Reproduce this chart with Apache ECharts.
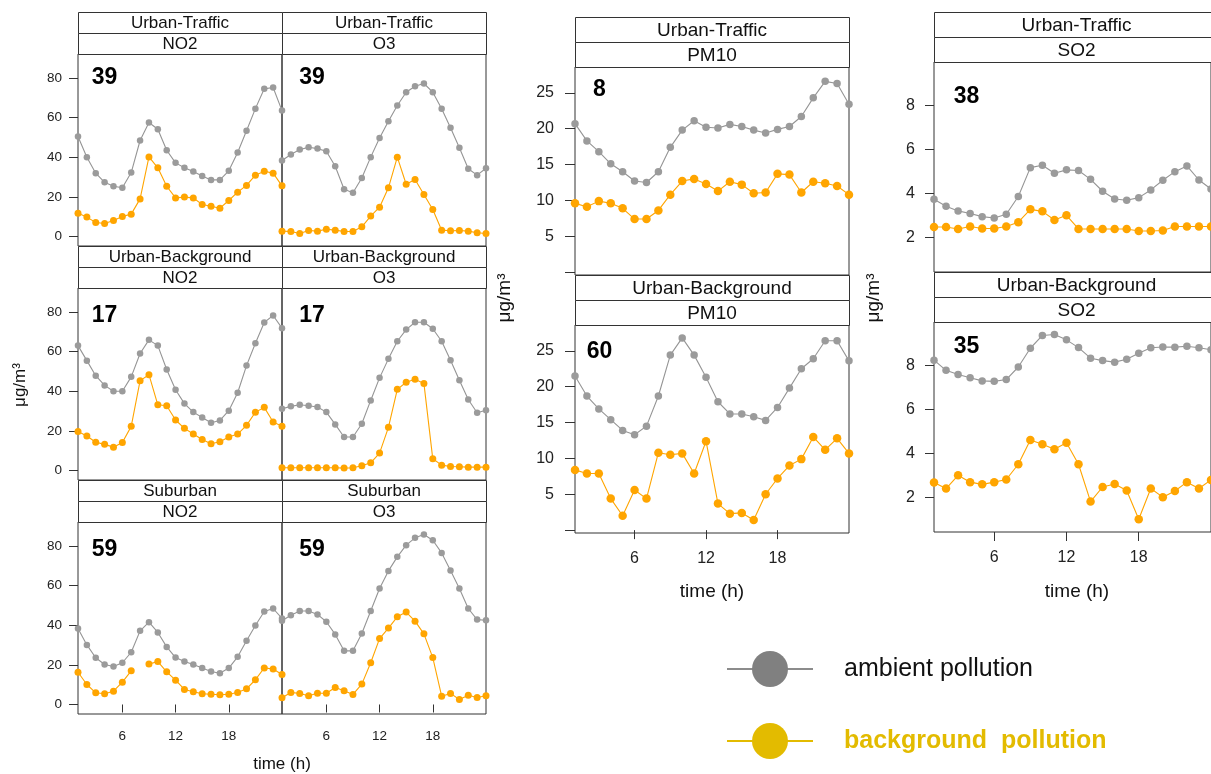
<!DOCTYPE html>
<html>
<head>
<meta charset="utf-8">
<script src="https://cdn.jsdelivr.net/npm/echarts@6/dist/echarts.min.js"></script>
<style>
html, body { margin: 0; padding: 0; background: #fff; }
#chart { width: 1211px; height: 774px; }
</style>
</head>
<body>
<div id="chart"></div>
<script>
// hours of the day, 1..24
const hours = [1, 2, 3, 4, 5, 6, 7, 8, 9, 10, 11, 12, 13, 14, 15, 16, 17, 18, 19, 20, 21, 22, 23, 24];
const hourTicks = [6, 12, 18];
const no2Ticks = [0, 20, 40, 60, 80];
const pm10Ticks = [0, 5, 10, 15, 20, 25];
const pm10Labels = [5, 10, 15, 20, 25];
const so2Ticks = [2, 4, 6, 8];

// Urban-Traffic
const utNo2Ambient = [50.5, 40, 32, 27.4, 25.4, 24.6, 32.3, 48.5, 57.6, 54.2, 43.6, 37.2, 34.7, 32.8, 30.6, 28.6, 28.6, 33.2, 42.4, 53.4, 64.6, 74.6, 75.3, 63.6];
const utNo2Background = [11.8, 9.8, 7.1, 6.6, 8.1, 10.1, 11.3, 19, 40.2, 34.7, 25.4, 19.5, 19.9, 19.5, 16.2, 15.3, 14.3, 18.2, 22.4, 25.8, 31, 33, 32, 25.6];
const utO3Ambient = [38.4, 41.4, 43.9, 45.1, 44.4, 43.1, 35.5, 23.9, 22.1, 29.6, 40.1, 49.8, 58.2, 66.2, 72.9, 75.9, 77.3, 72.9, 64.5, 54.9, 44.8, 34.2, 31, 34.5];
const utO3Background = [2.7, 2.5, 1.5, 3, 2.7, 3.7, 3.2, 2.5, 2.5, 4.9, 10.3, 14.8, 24.6, 40.1, 26.4, 28.8, 21.2, 13.6, 3.2, 2.9, 3, 2.7, 1.9, 1.5];
const utPm10Ambient = [20.7, 18.3, 16.8, 15.1, 14, 12.7, 12.5, 14, 17.4, 19.8, 21.1, 20.2, 20.1, 20.6, 20.3, 19.8, 19.4, 19.9, 20.3, 21.7, 24.3, 26.6, 26.3, 23.4];
const utPm10Background = [9.6, 9.1, 9.9, 9.6, 8.9, 7.4, 7.4, 8.6, 10.8, 12.7, 13, 12.3, 11.3, 12.6, 12.2, 11, 11.1, 13.7, 13.6, 11.1, 12.6, 12.4, 12, 10.8];
const utSo2Ambient = [3.74, 3.42, 3.21, 3.09, 2.95, 2.89, 3.06, 3.86, 5.17, 5.28, 4.92, 5.07, 5.04, 4.64, 4.1, 3.75, 3.69, 3.81, 4.16, 4.6, 4.99, 5.25, 4.61, 4.2];
const utSo2Background = [2.48, 2.48, 2.39, 2.5, 2.41, 2.41, 2.5, 2.7, 3.28, 3.19, 2.8, 3.01, 2.39, 2.39, 2.39, 2.39, 2.39, 2.3, 2.3, 2.32, 2.5, 2.5, 2.5, 2.5];

// Urban-Background
const ubNo2Ambient = [63.1, 55.5, 47.9, 43, 40, 40, 47.3, 59.1, 66, 63.1, 51, 40.8, 33.8, 29.5, 26.8, 24.1, 25.3, 30.2, 39.3, 53, 64.3, 74.8, 78.3, 71.9];
const ubNo2Background = [19.7, 17.4, 14.3, 13.2, 11.8, 14.2, 22.3, 45.4, 48.4, 33.2, 32.7, 25.5, 21.3, 18.4, 15.7, 13.5, 14.5, 16.9, 18.4, 22.8, 29.4, 31.9, 24.5, 22.4];
const ubO3Ambient = [31.2, 32.4, 33.2, 32.7, 32.1, 29.5, 23.3, 16.9, 16.9, 23.6, 35.4, 46.8, 56.4, 65.3, 71.2, 74.9, 74.9, 71.6, 65.3, 55.7, 45.6, 35.9, 29.2, 30.4];
const ubO3Background = [1.4, 1.4, 1.4, 1.4, 1.4, 1.4, 1.4, 1.2, 1.4, 2.4, 3.9, 8.8, 21.8, 41, 44.6, 46.1, 44, 5.9, 2.7, 2, 1.9, 1.7, 1.7, 1.7];
const ubPm10Ambient = [21.5, 18.7, 16.9, 15.4, 13.9, 13.3, 14.5, 18.7, 24.4, 26.8, 24.4, 21.3, 17.9, 16.2, 16.2, 15.8, 15.3, 17.1, 19.8, 22.5, 23.9, 26.4, 26.4, 23.6];
const ubPm10Background = [8.4, 7.9, 7.9, 4.4, 2, 5.6, 4.4, 10.8, 10.5, 10.7, 7.9, 12.4, 3.7, 2.3, 2.4, 1.4, 5, 7.2, 9, 9.9, 13, 11.2, 12.8, 10.7];
const ubSo2Ambient = [8.23, 7.77, 7.58, 7.43, 7.29, 7.27, 7.35, 7.92, 8.77, 9.35, 9.39, 9.15, 8.8, 8.32, 8.21, 8.14, 8.27, 8.54, 8.79, 8.83, 8.82, 8.86, 8.79, 8.7];
const ubSo2Background = [2.68, 2.41, 3.01, 2.7, 2.6, 2.7, 2.82, 3.51, 4.61, 4.42, 4.19, 4.49, 3.51, 1.82, 2.48, 2.62, 2.32, 1.02, 2.41, 2.02, 2.3, 2.7, 2.41, 2.8];

// Suburban
const sNo2Ambient = [38.4, 30.1, 23.6, 20.2, 19.2, 21.1, 26.4, 37.2, 41.6, 36.4, 29.1, 23.7, 21.7, 20.2, 18.4, 16.7, 15.8, 18.4, 24.1, 32.2, 39.9, 47, 48.5, 43.5];
const sNo2Background = [16.3, 10.1, 5.9, 5.4, 6.7, 11.3, 17, null, 20.4, 21.7, 16.5, 12.3, 7.6, 6.4, 5.4, 5.2, 4.9, 5.2, 6.1, 7.9, 12.5, 18.5, 17.9, 15.2];
const sO3Ambient = [42.3, 45.1, 47.2, 47.2, 45.5, 41.8, 35.4, 27.1, 27.1, 35.9, 47.2, 58.6, 67.5, 74.6, 80.5, 84.2, 85.9, 83, 76.6, 67.7, 58.6, 48.5, 42.9, 42.6];
const sO3Background = [3.4, 6.1, 5.6, 4.4, 5.7, 5.7, 8.6, 6.9, 5.1, 10.3, 21.1, 33.3, 38.6, 44.3, 46.7, 42.1, 35.7, 23.7, 4.2, 5.6, 2.5, 4.7, 3.5, 4.4];

const AMBIENT = 'ambient pollution';
const BACKGROUND = 'background  pollution';
const FONT = '"Liberation Sans", Arial, Helvetica, sans-serif';

// column styles
const columns = {
    left: { width: 204, stripH: 21, plotH: 192, stripFont: 17, tickFont: 13.5, yMin: -4.8, yMax: 92.2, yTicks: no2Ticks, yLabels: no2Ticks, yTickLen: 9, yMargin: 16, xTickLen: 8, xMargin: 15, symA: 6.5, symB: 7 },
    pm10: { width: 274, stripH: 25, plotH: 208, stripFont: 19, tickFont: 16, yMin: -0.4, yMax: 28.6, yTicks: pm10Ticks, yLabels: pm10Labels, yTickLen: 10, yMargin: 21, xTickLen: 9, xMargin: 18, symA: 7.5, symB: 8.5 },
    so2: { width: 285, stripH: 25, plotH: 210, stripFont: 19, tickFont: 16, yMin: 0.44, yMax: 9.96, yTicks: so2Ticks, yLabels: so2Ticks, yTickLen: 9, yMargin: 19, xTickLen: 9, xMargin: 18, symA: 7.5, symB: 8.5 },
};

const panels = [
    { col: 'left', x: 78, top: 12, site: 'Urban-Traffic', pol: 'NO2', tag: '39', tagDx: 26.5, tagDy: 24, yAxis: true, xAxis: false, a: utNo2Ambient, b: utNo2Background },
    { col: 'left', x: 282, top: 12, site: 'Urban-Traffic', pol: 'O3', tag: '39', tagDx: 30, tagDy: 24, yAxis: false, xAxis: false, a: utO3Ambient, b: utO3Background },
    { col: 'left', x: 78, top: 246, site: 'Urban-Background', pol: 'NO2', tag: '17', tagDx: 26.5, tagDy: 28, yAxis: true, xAxis: false, a: ubNo2Ambient, b: ubNo2Background },
    { col: 'left', x: 282, top: 246, site: 'Urban-Background', pol: 'O3', tag: '17', tagDx: 30, tagDy: 28, yAxis: false, xAxis: false, a: ubO3Ambient, b: ubO3Background },
    { col: 'left', x: 78, top: 480, site: 'Suburban', pol: 'NO2', tag: '59', tagDx: 26.5, tagDy: 28, yAxis: true, xAxis: true, a: sNo2Ambient, b: sNo2Background },
    { col: 'left', x: 282, top: 480, site: 'Suburban', pol: 'O3', tag: '59', tagDx: 30, tagDy: 28, yAxis: false, xAxis: true, a: sO3Ambient, b: sO3Background },
    { col: 'pm10', x: 575, top: 17, site: 'Urban-Traffic', pol: 'PM10', tag: '8', tagDx: 24.5, tagDy: 23, yAxis: true, xAxis: false, a: utPm10Ambient, b: utPm10Background },
    { col: 'pm10', x: 575, top: 275, site: 'Urban-Background', pol: 'PM10', tag: '60', tagDx: 24.5, tagDy: 27, yAxis: true, xAxis: true, a: ubPm10Ambient, b: ubPm10Background },
    { col: 'so2', x: 934, top: 12, site: 'Urban-Traffic', pol: 'SO2', tag: '38', tagDx: 32.5, tagDy: 35, yAxis: true, xAxis: false, a: utSo2Ambient, b: utSo2Background },
    { col: 'so2', x: 934, top: 272, site: 'Urban-Background', pol: 'SO2', tag: '35', tagDx: 32.5, tagDy: 25, yAxis: true, xAxis: true, a: ubSo2Ambient, b: ubSo2Background },
];

const toPoints = (vals) => hours.map((h, k) => [h, vals[k] == null ? '-' : vals[k]]);

const grids = [], xAxes = [], yAxes = [], series = [], graphics = [];

panels.forEach((p, i) => {
    const c = columns[p.col];
    const plotTop = p.top + 2 * c.stripH;
    grids.push({
        left: p.x, top: plotTop, width: c.width, height: c.plotH,
        show: true, borderColor: '#333', borderWidth: 1, backgroundColor: 'transparent',
    });
    xAxes.push({
        gridIndex: i, type: 'value', min: 1, max: 24,
        axisLine: { show: false }, splitLine: { show: false },
        axisTick: { show: p.xAxis, customValues: hourTicks, length: c.xTickLen, lineStyle: { color: '#333' } },
        axisLabel: { show: p.xAxis, customValues: hourTicks, fontSize: c.tickFont, color: '#222', margin: c.xMargin, fontFamily: FONT },
    });
    yAxes.push({
        gridIndex: i, type: 'value', min: c.yMin, max: c.yMax,
        axisLine: { show: false }, splitLine: { show: false },
        axisTick: { show: p.yAxis, customValues: c.yTicks, length: c.yTickLen, lineStyle: { color: '#333' } },
        axisLabel: { show: p.yAxis, customValues: c.yLabels, fontSize: c.tickFont, color: '#222', margin: c.yMargin, fontFamily: FONT },
    });
    series.push({
        type: 'line', name: AMBIENT, xAxisIndex: i, yAxisIndex: i,
        data: toPoints(p.a), symbol: 'circle', symbolSize: c.symA, silent: true,
        itemStyle: { color: '#9b9b9b' }, lineStyle: { color: '#959595', width: 1.1 },
    });
    series.push({
        type: 'line', name: BACKGROUND, xAxisIndex: i, yAxisIndex: i,
        data: toPoints(p.b), symbol: 'circle', symbolSize: c.symB, silent: true,
        itemStyle: { color: '#ffa500' }, lineStyle: { color: '#ffa500', width: 1.1 },
    });

    // strip boxes
    [p.site, p.pol].forEach((label, k) => {
        const y = p.top + k * c.stripH;
        graphics.push({
            type: 'rect', silent: true, z: 10,
            shape: { x: p.x + 0.5, y: Math.round(y) + 0.5, width: c.width, height: c.stripH },
            style: { fill: '#fff', stroke: '#333', lineWidth: 1 },
        });
        graphics.push({
            type: 'text', silent: true, z: 11,
            x: p.x + c.width / 2, y: y + c.stripH / 2 + 1,
            style: { text: label, fontSize: c.stripFont, fontFamily: FONT, fill: '#111', align: 'center', verticalAlign: 'middle' },
        });
    });
    // station count tag
    graphics.push({
        type: 'text', silent: true, z: 11,
        x: p.x + p.tagDx, y: plotTop + p.tagDy,
        style: { text: p.tag, fontSize: 23, fontWeight: 'bold', fontFamily: FONT, fill: '#000', align: 'center', verticalAlign: 'middle' },
    });
});

const axisTitles = [
    { text: 'time (h)', x: 282, y: 764, size: 17, rot: 0 },
    { text: 'time (h)', x: 712, y: 592, size: 19, rot: 0 },
    { text: 'time (h)', x: 1077, y: 592, size: 19, rot: 0 },
    { text: 'μg/m³', x: 20, y: 385, size: 17, rot: Math.PI / 2 },
    { text: 'μg/m³', x: 505, y: 298, size: 19, rot: Math.PI / 2 },
    { text: 'μg/m³', x: 874, y: 298, size: 19, rot: Math.PI / 2 },
];
axisTitles.forEach((t) => {
    graphics.push({
        type: 'text', silent: true, x: t.x, y: t.y, rotation: t.rot,
        style: { text: t.text, fontSize: t.size, fontFamily: FONT, fill: '#111', align: 'center', verticalAlign: 'middle' },
    });
});

const chart = echarts.init(document.getElementById('chart'));
chart.setOption({
    animation: false,
    backgroundColor: '#fff',
    textStyle: { fontFamily: FONT },
    grid: grids,
    xAxis: xAxes,
    yAxis: yAxes,
    series: series,
    graphic: graphics,
    legend: {
        orient: 'vertical', left: 721, top: 646,
        itemWidth: 86, itemHeight: 45, itemGap: 36,
        selectedMode: false,
        textStyle: { fontSize: 25, fontFamily: FONT, padding: [0, 0, 0, 26] },
        data: [
            { name: AMBIENT, itemStyle: { color: '#808080' }, lineStyle: { color: '#8c8c8c', width: 2 }, textStyle: { color: '#111' } },
            { name: BACKGROUND, itemStyle: { color: '#e3bb00' }, lineStyle: { color: '#e3bb00', width: 2 }, textStyle: { color: '#e3bb00', fontWeight: 'bold' } },
        ],
    },
});
</script>
</body>
</html>
